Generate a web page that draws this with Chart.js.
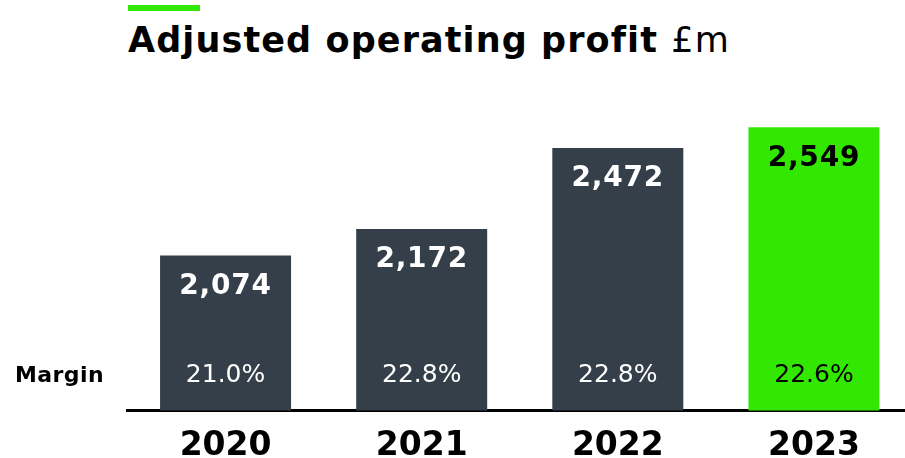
<!DOCTYPE html>
<html>
<head>
    <title>Adjusted operating profit</title>
    <style>
        body { margin: 0; overflow: hidden; background: #fff; font-family: "DejaVu Sans", sans-serif; }
        .accent { position: absolute; left: 128px; top: 5px; width: 72px; height: 6px; background: #32e800; }
        .title { position: absolute; left: 128px; top: 20px; font-size: 35px; letter-spacing: 1.1px; font-weight: bold; color: #000; white-space: nowrap; }
        .title span { font-weight: normal; }
        .wrap { position: absolute; left: 0; top: 0; width: 912px; height: 482px; }
    </style>
</head>
<body>
    <div class="accent"></div>
    <div class="title">Adjusted operating profit <span>£m</span></div>
    <div class="wrap"><canvas id="profitChart"></canvas></div>

    <script src="https://cdn.jsdelivr.net/npm/chart.js"></script>
    <script>
        var years = ['2020', '2021', '2022', '2023'];
        var profit = [2074, 2172, 2472, 2549];
        var margins = ['21.0%', '22.8%', '22.8%', '22.6%'];

        var dark = '#343f4a';
        var green = '#32e800';
        var barColors = years.map(function(y, i) { return i === years.length - 1 ? green : dark; });
        var textColors = years.map(function(y, i) { return i === years.length - 1 ? '#000' : '#fff'; });

        // value labels inside the bar tops, margin labels near the base
        var labelPlugin = {
            id: 'barLabels',
            afterDatasetsDraw: function(chart) {
                var ctx = chart.ctx;
                var meta = chart.getDatasetMeta(0);
                var base = chart.scales.y.getPixelForValue(chart.scales.y.min);
                ctx.save();
                ctx.textAlign = 'center';
                ctx.textBaseline = 'middle';
                meta.data.forEach(function(bar, i) {
                    ctx.fillStyle = textColors[i];
                    ctx.font = 'bold 28px "DejaVu Sans"';
                    ctx.letterSpacing = '0.8px';
                    ctx.fillText(profit[i].toLocaleString('en-GB'), bar.x, bar.y + 31);
                    ctx.font = '25px "DejaVu Sans"';
                    ctx.letterSpacing = '0px';
                    ctx.fillText(margins[i], bar.x, base - 35);
                });
                ctx.fillStyle = '#000';
                ctx.textAlign = 'left';
                ctx.font = 'bold 22px "DejaVu Sans"';
                ctx.letterSpacing = '0.4px';
                ctx.fillText('Margin', 15, base - 34);
                ctx.restore();
            }
        };

        var ctx = document.getElementById('profitChart').getContext('2d');
        new Chart(ctx, {
            type: 'bar',
            data: {
                labels: years,
                datasets: [{
                    data: profit,
                    backgroundColor: barColors,
                    borderWidth: 0,
                    barPercentage: 0.668,
                    categoryPercentage: 1
                }]
            },
            options: {
                responsive: true,
                maintainAspectRatio: false,
                animation: false,
                layout: { padding: { left: 127.5, top: 113.5, right: 0, bottom: 0 } },
                plugins: {
                    legend: { display: false },
                    tooltip: { enabled: false }
                },
                scales: {
                    x: {
                        grid: { display: false, drawTicks: false },
                        border: { display: true, color: '#000', width: 3 },
                        ticks: {
                            color: '#000',
                            padding: 16,
                            font: { family: 'DejaVu Sans', size: 33, weight: 'bold' }
                        }
                    },
                    y: {
                        display: false,
                        min: 1500,
                        max: 2600
                    }
                }
            },
            plugins: [labelPlugin]
        });
    </script>
</body>
</html>
